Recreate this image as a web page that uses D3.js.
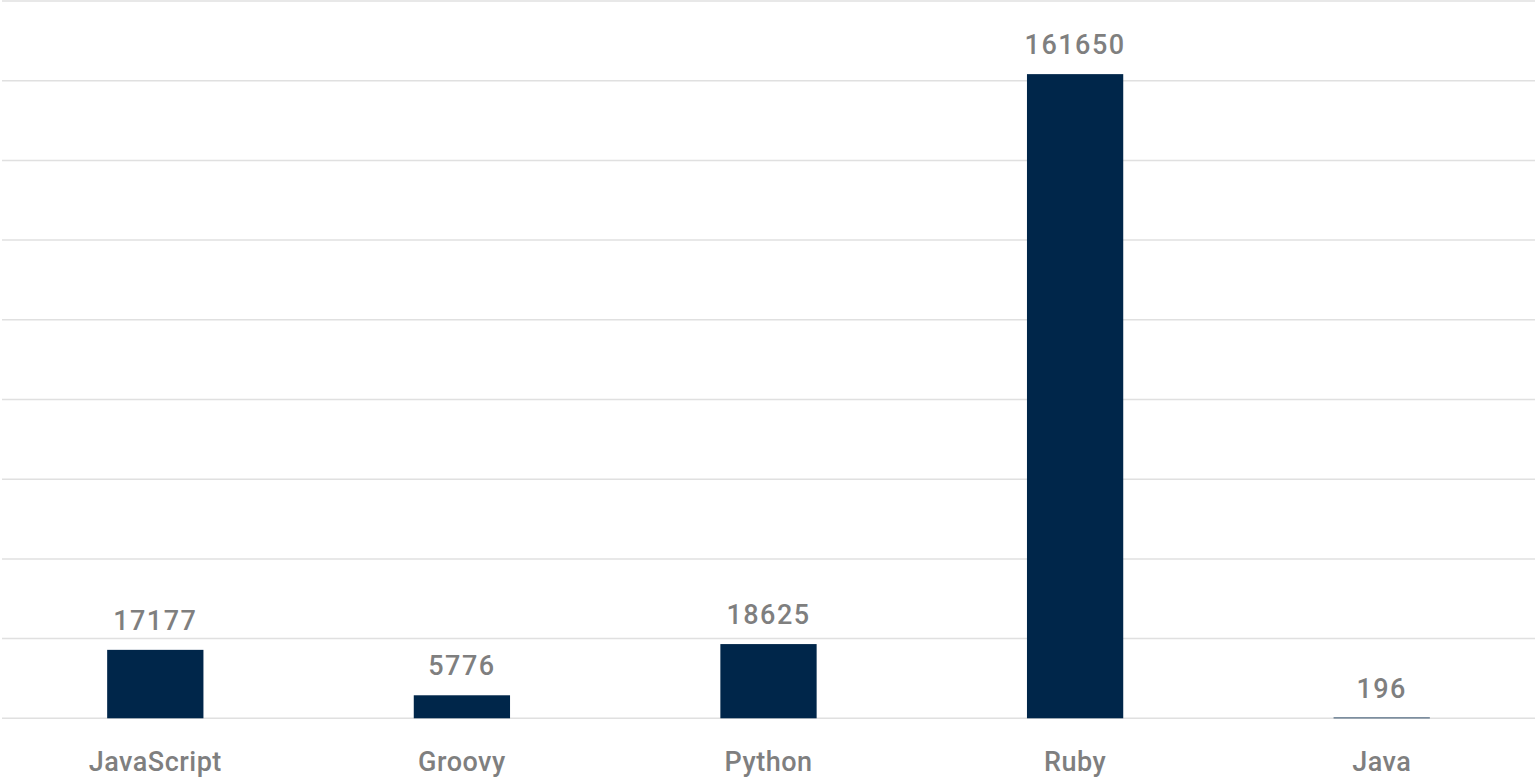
<!DOCTYPE html>
<html>
<head>
<meta charset="utf-8">
<script src="https://cdn.jsdelivr.net/npm/d3@7"></script>
<style>
  body { margin: 0; background: #fff; }
  svg { display: block; }
  text { font-family: Roboto, sans-serif; font-weight: 500; fill: #7f7f7f; }
</style>
</head>
<body>
<div id="chart"></div>
<script>
// datos del grafico
const languages = ["JavaScript", "Groovy", "Python", "Ruby", "Java"];
const counts = [17177, 5776, 18625, 161650, 196];
const yTicks = [0, 20000, 40000, 60000, 80000, 100000, 120000, 140000, 160000, 180000];

const width = 1535, height = 779;
const baseline = 718.3, plotTop = 1;

const svg = d3.select("#chart").append("svg")
  .attr("width", width)
  .attr("height", height);

const x = d3.scaleBand()
  .domain(languages)
  .range([2, 1535])
  .paddingInner(0.686)
  .paddingOuter(0.343);

const y = d3.scaleLinear()
  .domain([0, 180000])
  .range([baseline, plotTop]);

// lineas de la grilla
svg.append("g")
  .selectAll("line")
  .data(yTicks)
  .enter()
  .append("line")
  .attr("x1", 2)
  .attr("x2", width)
  .attr("y1", d => y(d))
  .attr("y2", d => y(d))
  .style("stroke", "#e0e0e0")
  .style("stroke-width", 1.5);

const data = languages.map((l, i) => ({ lang: l, value: counts[i] }));

// barras
svg.append("g")
  .selectAll("rect")
  .data(data)
  .enter()
  .append("rect")
  .attr("x", d => x(d.lang))
  .attr("y", d => y(d.value))
  .attr("width", x.bandwidth())
  .attr("height", d => baseline - y(d.value))
  .style("fill", "#00264a");

// etiquetas de valor
svg.append("g")
  .selectAll("text")
  .data(data)
  .enter()
  .append("text")
  .attr("x", d => x(d.lang) + x.bandwidth() / 2)
  .attr("y", d => y(d.value) - 20)
  .attr("text-anchor", "middle")
  .style("font-size", "27px")
  .style("letter-spacing", "1.5px")
  .text(d => d.value);

// etiquetas de categoria
svg.append("g")
  .selectAll("text")
  .data(languages)
  .enter()
  .append("text")
  .attr("x", d => x(d) + x.bandwidth() / 2)
  .attr("y", 771)
  .attr("text-anchor", "middle")
  .style("font-size", "27px")
  .style("letter-spacing", "0.5px")
  .text(d => d);
</script>
</body>
</html>
